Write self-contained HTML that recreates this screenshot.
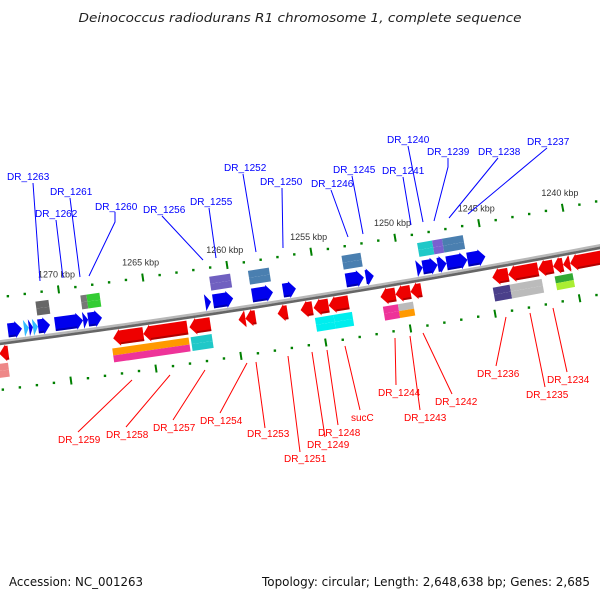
<!DOCTYPE html>
<html><head><meta charset="utf-8"><style>
html,body{margin:0;padding:0;background:#fff;}
svg{display:block;font-family:"Liberation Sans","DejaVu Sans",sans-serif;}
</style></head><body>
<svg id="chart" width="600" height="600" viewBox="0 0 600 600" xmlns="http://www.w3.org/2000/svg">
<text x="300" y="22" text-anchor="middle" font-family="DejaVu Sans, sans-serif" font-style="italic" font-size="12" fill="#222" textLength="443" lengthAdjust="spacingAndGlyphs">Deinococcus radiodurans R1 chromosome 1, complete sequence</text>
<text x="9" y="586" font-family="DejaVu Sans, sans-serif" font-size="12" fill="#111" textLength="134" lengthAdjust="spacingAndGlyphs">Accession: NC_001263</text>
<text x="262" y="586" font-family="DejaVu Sans, sans-serif" font-size="12" fill="#111" textLength="328" lengthAdjust="spacingAndGlyphs">Topology: circular; Length: 2,648,638 bp; Genes: 2,685</text>
<g id="map"></g>
</svg>
<script>
// ---- data (kbp) ----
const fwdStart=[1273.26,1272.31,1272.02,1271.78,1271.48,1270.48,1268.82,1268.52,1261.6,1261.13,1258.82,1256.99,1253.26,1252.08,1249.06,1248.7,1247.81,1247.28,1246.04];
const fwdEnd  =[1272.43,1272.02,1271.78,1271.48,1270.77,1268.82,1268.52,1267.70,1261.25,1259.94,1257.58,1256.22,1252.19,1251.6,1248.7,1247.81,1247.28,1246.04,1244.97];
const fwdColor=["#0000ee","#33bbff","#0000ee","#33bbff","#0000ee","#0000ee","#0000ee","#0000ee","#0000ee","#0000ee","#0000ee","#0000ee","#0000ee","#0000ee","#0000ee","#0000ee","#0000ee","#0000ee","#0000ee"];
const revStart=[1273.93,1267.22,1265.44,1262.72,1259.82,1259.41,1257.51,1256.15,1255.38,1254.49,1251.42,1250.53,1249.64,1244.79,1243.84,1242.07,1241.18,1240.59,1240.17];
const revEnd  =[1273.4,1265.44,1262.84,1261.48,1259.41,1258.81,1256.92,1255.44,1254.49,1253.31,1250.53,1249.64,1248.99,1243.84,1242.07,1241.18,1240.59,1240.17,1238.2];
const fboxStart=[1271.44,1268.78,1268.42,1261.14,1258.84,1253.28,1248.78,1247.89,1247.3];
const fboxEnd  =[1270.67,1268.42,1267.65,1259.9,1257.6,1252.15,1247.89,1247.3,1246.06];
const fboxTop  =["#666","#777","#33cc33","#7060c0","#4a7fb0","#4a7fb0","#20c8c8","#7a60d0","#4a7fb0"];
const fboxBot  =["#666","#777","#33cc33","#7060c0","#4a7fb0","#4a7fb0","#20c8c8","#7a60d0","#4a7fb0"];
const rboxStart=[1274.1,1267.36,1262.74,1255.4,1254.3,1251.38,1250.49,1244.87,1243.87,1241.2];
const rboxEnd  =[1273.5,1262.86,1261.5,1254.3,1253.21,1250.49,1249.6,1243.87,1241.97,1240.14];
const rboxTop  =["#e88","#ff9900","#20c8c8","#00eeee","#00eeee","#ee3399","#bbbbbb","#4a3f8a","#bbbbbb","#33aa33"];
const rboxBot  =["#e88","#ee3399","#20c8c8","#00eeee","#00eeee","#ee3399","#ff9900","#4a3f8a","#bbbbbb","#aaee33"];
const tickMin=1236, tickMax=1276;
const kbpLabels=[1240,1245,1250,1255,1260,1265,1270];
const fwdLabels=["DR_1263","DR_1262","DR_1261","DR_1260","DR_1256","DR_1255","DR_1252","DR_1250","DR_1246","DR_1245","DR_1241","DR_1240","DR_1239","DR_1238","DR_1237"];
const fwdLabelX=[7,35,50,95,143,190,224,260,311,333,382,387,427,478,527];
const fwdLabelY=[176,213,191,206,209,201,167,181,183,169,170,139,151,151,141];
const fwdLead=[[[33,183],[40,281]],[[56,220],[63,278]],[[70,198],[80,277]],[[115,212],[115,222],[89,276]],[[162,216],[203,260]],[[209,208],[216,258]],[[243,174],[256,252]],[[282,188],[283,248]],[[331,190],[348,237]],[[352,176],[363,234]],[[403,177],[411,225]],[[408,146],[423,222]],[[448,158],[448,167],[434,221]],[[498,158],[449,218]],[[547,148],[468,214]]];
const revLabels=["DR_1259","DR_1258","DR_1257","DR_1254","DR_1253","DR_1251","DR_1249","DR_1248","sucC","DR_1244","DR_1243","DR_1242","DR_1236","DR_1235","DR_1234"];
const revLabelX=[58,106,153,200,247,284,307,318,351,378,404,435,477,526,547];
const revLabelY=[439,434,427,420,433,458,444,432,417,392,417,401,373,394,379];
const revLead=[[[78,432],[132,380]],[[126,427],[170,375]],[[173,420],[205,370]],[[220,413],[247,363]],[[265,428],[256,362]],[[300,452],[288,356]],[[325,437],[312,352]],[[338,425],[327,350]],[[360,410],[345,346]],[[396,385],[395,338]],[[420,410],[410,336]],[[452,394],[423,333]],[[496,366],[506,317]],[[545,387],[530,313]],[[567,372],[553,308]]];

// ---- geometry (arc with centre above-left) ----
const R=10400, CX=300-R*0.158, CY=294.5-R*0.987;
const A0=Math.atan2(0.987,0.158), K0=1256.04, D=17.1/R;
function P(k,v){const a=A0+(k-K0)*D; const r=R+v; return [CX+r*Math.cos(a), CY+r*Math.sin(a)];}
const NS="http://www.w3.org/2000/svg";
const map=document.getElementById('map');
function mk(tag,attrs){const e=document.createElementNS(NS,tag);for(const k in attrs)e.setAttribute(k,attrs[k]);map.appendChild(e);return e;}
function pts(arr){return arr.map(p=>p[0].toFixed(2)+','+p[1].toFixed(2)).join(' ');}

let bTop=[],bBot=[];
for(let k=tickMin;k<=tickMax;k+=0.5){bTop.push(P(k,-1.2));bBot.push(P(k,1.3));}
let bb=mk('polyline',{points:pts(bTop),fill:'none',stroke:'#b8b8b8','stroke-width':2.6});


let bb2=mk('polyline',{points:pts(bBot),fill:'none',stroke:'#666','stroke-width':2.6});



for(let k=tickMin;k<=tickMax;k++){
  [[-45,'upper'],[47,'lower']].forEach(([v,n])=>{
    let e;
    if(k%5===0){const a=P(k,v-4),b=P(k,v+4);e=mk('line',{x1:a[0],y1:a[1],x2:b[0],y2:b[1],stroke:'#008000','stroke-width':2});}
    else{const c=P(k,v);e=mk('rect',{x:c[0]-1.2,y:c[1]-1.2,width:2.4,height:2.4,fill:'#008000'});}
    
    
  });
}
kbpLabels.forEach(k=>{const c=P(k,-60);const t=mk('text',{x:c[0],y:c[1]+3,'text-anchor':'middle','font-size':9,fill:'#333'});t.textContent=k+' kbp';
  
  });

function box(s,e,v1,v2,top,bot,name){
  const vm=(v1+v2)/2;
  const a=mk('polygon',{points:pts([P(s,v1),P(e,v1),P(e,vm),P(s,vm)]),fill:top});
  
  
  const b=mk('polygon',{points:pts([P(s,vm),P(e,vm),P(e,v2),P(s,v2)]),fill:bot});
  
  
}
function arrow(hi,lo,v1,v2,dir,color,name){
  const len=hi-lo, h=Math.min(0.4,len);
  const vm=(v1+v2)/2, f=1.5;
  let p;
  if(dir>0){const hb=lo+h;p=[P(hi,v1),P(hb,v1),P(hb,v1-f),P(lo,vm),P(hb,v2+f),P(hb,v2),P(hi,v2)];}
  else{const hb=hi-h;p=[P(lo,v1),P(hb,v1),P(hb,v1-f),P(hi,vm),P(hb,v2+f),P(hb,v2),P(lo,v2)];}
  const g=mk('polygon',{points:pts(p),fill:color});
  
  
  const d=mk('polyline',{points:pts(dir>0?[P(hi,v2-1),P(hi-(len-h),v2-1)]:[P(lo,v2-1),P(lo+(len-h),v2-1)]),fill:'none',stroke:'rgba(0,0,0,0.25)','stroke-width':2});
  
  
}
fboxStart.forEach((s,i)=>box(s,fboxEnd[i],-36,-22,fboxTop[i],fboxBot[i],'cog-box-fwd-'+i));
rboxStart.forEach((s,i)=>box(s,rboxEnd[i],21,35,rboxTop[i],rboxBot[i],'cog-box-rev-'+i));
fwdStart.forEach((s,i)=>arrow(s,fwdEnd[i],-18,-4,1,fwdColor[i],'gene-fwd-'+i));
revStart.forEach((s,i)=>arrow(s,revEnd[i],4,18,-1,'#ee0000','gene-rev-'+i));
function labels(names,xs,ys,leads,color,pre){
  names.forEach((n,i)=>{
    const l=mk('polyline',{points:pts(leads[i]),fill:'none',stroke:color,'stroke-width':1});
    
    
    const t=mk('text',{x:xs[i],y:ys[i]+4,'font-size':10,fill:color});
    t.textContent=n;
    
    
  });
}
labels(fwdLabels,fwdLabelX,fwdLabelY,fwdLead,'#0000ff','fwd');
labels(revLabels,revLabelX,revLabelY,revLead,'#ff0000','rev');
</script>
</body></html>
